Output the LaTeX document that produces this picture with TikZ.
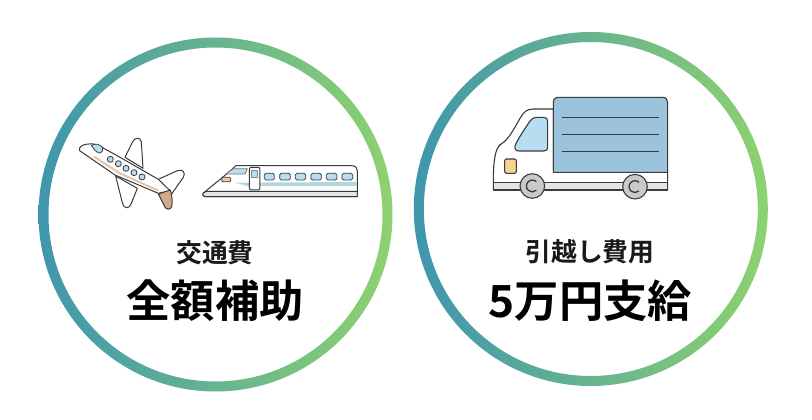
\documentclass[tikz,border=0pt]{standalone}
\usepackage{fontspec}
\newfontfamily\jpbold{Noto Sans CJK JP Bold}
\definecolor{ringL}{HTML}{3F96AE}
\definecolor{ringR}{HTML}{8ED26F}
\definecolor{ink}{HTML}{3A3A3A}
\definecolor{skyblue}{HTML}{B7DDF0}
\definecolor{boxblue}{HTML}{9CC3DC}
\definecolor{tan}{HTML}{D2A98C}
\definecolor{tanlight}{HTML}{E3C4AE}
\definecolor{band}{HTML}{E4E4E4}
\definecolor{stripe}{HTML}{B4D5DF}
\definecolor{lamp}{HTML}{F2D690}
\definecolor{wheel}{HTML}{C9C9C9}
\tikzset{
  ring/.style={even odd rule,left color=ringL,right color=ringR},
  small label/.style={font=\jpbold\fontsize{25.8}{26}\selectfont,text=black!90,inner sep=0pt},
  big label/.style={font=\jpbold\fontsize{44.3}{45}\selectfont,text=black,inner sep=0pt},
  outline/.style={draw=ink,line width=1pt,line join=round},
  thin outline/.style={draw=ink,line width=0.8pt,line join=round},
  zoomA/.style={shift={(70,120)},x=0.33333pt,y=-0.33333pt},
  zoomB/.style={shift={(470,85)},x=0.33333pt,y=-0.33333pt},
}
\begin{document}
\begin{tikzpicture}[x=1pt,y=-1pt]
\useasboundingbox (0,0) rectangle (812,420);
\fill[white] (0,0) rectangle (812,420);
\coordinate (c1) at (215.5,214.5);
\coordinate (c2) at (590.8,209);
% rings
\shade[ring] (c1) circle[radius=177pt] (c1) circle[radius=167pt];
\shade[ring] (c2) circle[radius=177pt] (c2) circle[radius=167pt];
% labels
\node[small label] (t1) at (215,252.5) {交通費};
\node[big label] (t2) at (215,301) {全額補助};
\node[small label] (t3) at (590,252) {引越し費用};
\node[big label] (t4) at (590.5,301) {5万円支給};
% plane
\begin{scope}[zoomA]
  % far wing
  \draw[outline,fill=white] (165,112) -- (188,65) .. controls (194,52) and (212,50) .. (214,66) -- (219,145) -- cycle;
  % near wing
  \draw[outline,fill=white] (137,168) -- (157,248) .. controls (162,268) and (178,268) .. (184,250) -- (202,205) -- cycle;
  % stabiliser
  \draw[outline,fill=white] (265,178) -- (322,152) .. controls (338,146) and (348,158) .. (340,172) -- (305,222) -- (262,212) -- cycle;
  % fuselage
  \draw[outline,fill=white] (29,92) .. controls (24,80) and (40,70) .. (70,72)
     .. controls (90,76) and (150,112) .. (265,178) -- (300,212) -- (265,220)
     -- (135,165) -- (29,92) -- cycle;
  % stripe
  \draw[tanlight,line width=2pt] (72,110) -- (150,160) -- (265,212);
  % tail
  \draw[outline,fill=tan] (265,222) -- (301,210) .. controls (306,225) and (308,245) .. (305,260)
     .. controls (300,270) and (290,270) .. (284,260) -- cycle;
  % cockpit
  \draw[thin outline,fill=skyblue] (64,76) .. controls (75,70) and (90,72) .. (97,82)
     .. controls (100,92) and (95,100) .. (86,99) .. controls (78,95) and (70,86) .. (64,76) -- cycle;
  % windows
  \foreach \p in {(121,118),(145,131),(168,145),(192,158),(216,171)}
    \draw[thin outline,fill=skyblue] \p circle[radius=3pt];
\end{scope}
% train
\begin{scope}[zoomA]
  \draw[outline,fill=white] (400,219) -- (470,162) -- (498,137) -- (845,137)
     .. controls (857,137) and (862,144) .. (862,152) -- (862,230) -- (405,230)
     .. controls (398,230) and (396,223) .. (400,219) -- cycle;
  \fill[stripe] (495,188) -- (860,186) -- (860,198) -- (530,198) -- cycle;
  \draw[outline,fill=band] (410,214) -- (862,214) -- (862,230) -- (405,230)
     .. controls (398,230) and (396,223) .. (400,219) -- cycle;
  \draw[thin outline,draw=ink!70,fill=skyblue] (467,162) -- (490,146) -- (532,146) -- (525,162) -- cycle;
  \draw[thin outline,fill=lamp!70!tan,rounded corners=1pt] (455,172) rectangle (482,185);
  \draw[outline,fill=white,rounded corners=2pt] (538,142) rectangle (570,210);
  \draw[thin outline,draw=ink!60,fill=skyblue] (545,152) rectangle (563,172);
  \foreach \a/\b in {583/613,629/661,676/707,723/754,769/801,816/848}
    \draw[thin outline,fill=skyblue,rounded corners=1.5pt] (\a,160) rectangle (\b,180);
\end{scope}
% truck
\begin{scope}[zoomB]
  \draw[outline,line width=1.1pt,fill=white] (250,72) -- (190,72) .. controls (170,72) and (160,82) .. (150,100)
     .. controls (130,135) and (115,165) .. (92,178) .. controls (75,190) and (70,230) .. (70,290)
     -- (70,315) -- (593,315) -- (593,255) -- (250,255) -- cycle;
  \draw[outline,line width=1.1pt,fill=boxblue] (250,262) -- (250,52) .. controls (250,42) and (256,37) .. (266,37)
     -- (578,37) .. controls (588,37) and (593,44) .. (593,52) -- (593,262) -- cycle;
  \draw[outline,line width=1.1pt,fill=band] (70,292) rectangle (593,315);
  \foreach \y in {96,148,199}
    \draw[ink,line width=0.8pt] (275,\y) -- (567,\y);
  \draw[outline,line width=1.1pt,fill=skyblue] (200,97) -- (222,97) .. controls (230,97) and (233,102) .. (233,110)
     -- (233,186) .. controls (233,194) and (230,198) .. (222,198) -- (147,198)
     .. controls (136,198) and (132,190) .. (136,180) .. controls (145,160) and (165,130) .. (180,108)
     .. controls (186,100) and (192,97) .. (200,97) -- cycle;
  \draw[outline,line width=1.1pt,fill=lamp,rounded corners=2pt] (104,222) rectangle (139,265);
  \foreach \cx/\cy in {187/303,495/305}{
    \draw[outline,line width=1.1pt,fill=wheel] (\cx,\cy) circle[radius=12.3pt];
    \draw[ink,line width=1.3pt] (\cx+12,\cy-13) arc[start angle=47,end angle=313,radius=5.9pt];
  }
\end{scope}
\end{tikzpicture}
\end{document}
